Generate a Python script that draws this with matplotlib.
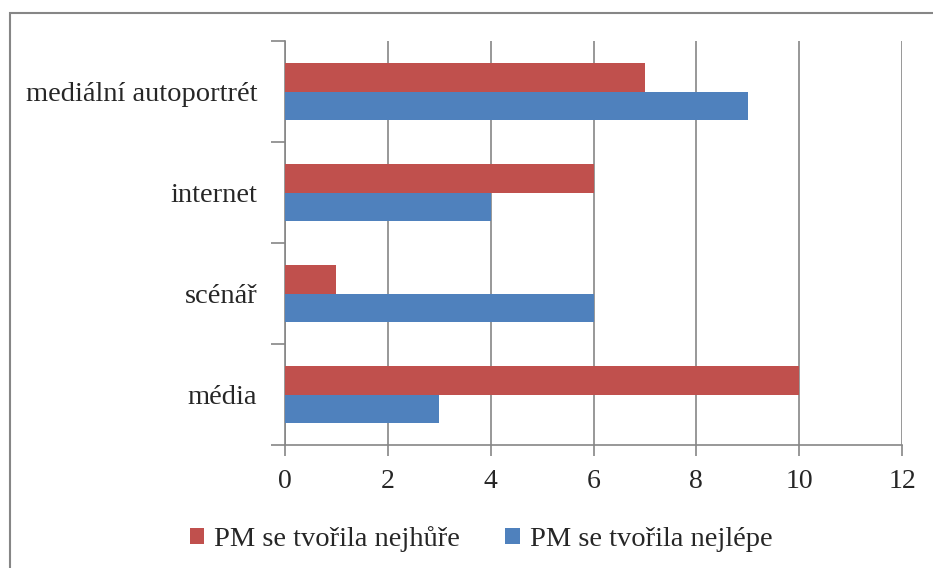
import matplotlib.pyplot as plt
from matplotlib.patches import Rectangle
import numpy as np

plt.rcParams['font.family'] = ['Liberation Serif', 'DejaVu Serif']

categories = ["média", "scénář", "internet", "mediální autoportrét"]
worst = [10, 1, 6, 7]   # PM se tvořila nejhůře
best = [3, 6, 4, 9]     # PM se tvořila nejlépe
labels = ["PM se tvořila nejhůře", "PM se tvořila nejlépe"]

red = "#C0504D"
blue = "#4F81BD"
grey = "#868686"
txt = "#262626"

fig = plt.figure(figsize=(9.33, 5.68), dpi=100)
ax = fig.add_axes([285/933, 1-445/568, (902-285)/933, (445-41)/568])

y = np.arange(len(categories))
h = 0.28
ax.barh(y + h/2, worst, height=h, color=red, label=labels[0], zorder=3)
ax.barh(y - h/2, best, height=h, color=blue, label=labels[1], zorder=3)

ax.set_xlim(0, 12)
ax.set_ylim(-0.5, 3.5)
ax.set_xticks(range(0, 13, 2))
ax.set_yticks(y)
ax.set_yticklabels(categories)
ax.set_yticks(np.arange(-0.5, 4, 1), minor=True)
ax.tick_params(axis='y', which='major', length=0, labelsize=20.5, pad=20)
ax.tick_params(axis='y', which='minor', length=10, color=grey, width=1.2)
ax.tick_params(axis='x', length=8, color=grey, width=1.2, labelsize=20, pad=9)
ax.grid(axis='x', color=grey, linewidth=1.2, zorder=0)
for s in ['top', 'right']:
    ax.spines[s].set_visible(False)
for s in ['left', 'bottom']:
    ax.spines[s].set_color(grey)
    ax.spines[s].set_linewidth(1.2)
for t in ax.get_xticklabels() + ax.get_yticklabels():
    t.set_color(txt)

fig.legend(loc='center', bbox_to_anchor=(481/933, 1-539/568), ncol=2, frameon=False,
           fontsize=20.5, handlelength=0.5, handleheight=0.5, handletextpad=0.35,
           columnspacing=1.6, labelcolor=txt)

fig.patches.append(Rectangle((10/933, -0.1), 1.2, 1.1 - 13/568, transform=fig.transFigure,
                             fill=False, edgecolor=grey, linewidth=1.5))

fig.savefig("out.png", dpi=100)
